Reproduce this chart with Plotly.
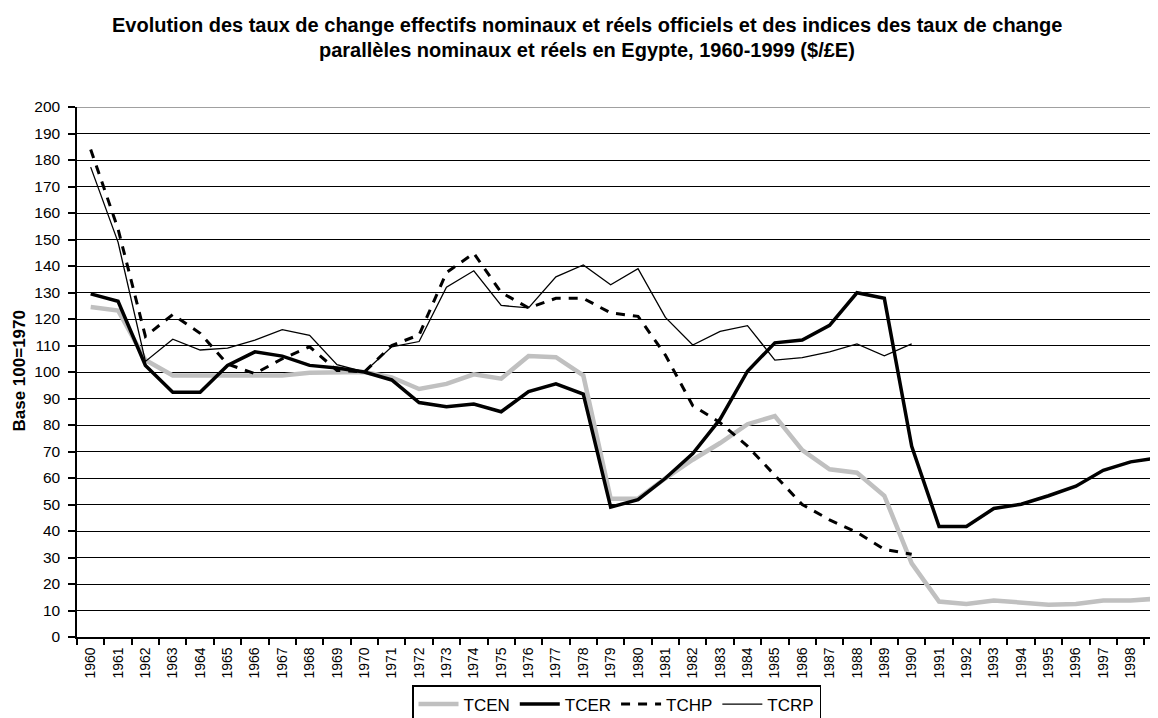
import plotly.graph_objects as go

years = [str(y) for y in range(1960, 2000)]

tcen = [124.5, 123.2, 104.5, 98.7, 98.7, 98.7, 98.7, 98.7, 99.7, 100.0,
        100.0, 98.0, 93.6, 95.5, 99.1, 97.5, 106.0, 105.6, 98.7, 52.2,
        52.2, 59.9, 66.9, 73.2, 80.3, 83.4, 70.5, 63.3, 62.0, 53.3,
        27.8, 13.4, 12.5, 13.8, 13.2, 12.2, 12.5, 13.8, 13.8, 14.5]

tcer = [129.5, 126.7, 102.5, 92.4, 92.4, 102.5, 107.6, 106.0, 102.5, 101.5,
        100.0, 97.0, 88.5, 86.9, 87.9, 85.0, 92.6, 95.5, 91.7, 49.0,
        51.8, 59.9, 69.2, 82.2, 100.3, 111.0, 112.1, 117.6, 129.9, 127.8,
        72.0, 41.7, 41.7, 48.5, 50.1, 53.3, 56.9, 62.9, 66.1, 67.6]

tchp = [184.0, 154.0, 113.4, 121.7, 114.6, 103.0, 99.4, 105.0, 109.5, 100.6,
        100.0, 110.0, 114.0, 137.5, 144.8, 130.0, 124.2, 127.8, 127.8, 122.3,
        121.0, 106.4, 87.3, 80.9, 72.0, 61.1, 50.0, 44.2, 39.5, 33.1,
        31.2, None, None, None, None, None, None, None, None, None]

tcrp = [177.3, 149.0, 104.0, 112.4, 108.3, 109.0, 112.0, 116.0, 113.8, 102.8,
        100.0, 109.5, 111.5, 132.0, 138.2, 125.1, 124.2, 135.9, 140.4, 132.9,
        139.0, 120.6, 110.2, 115.3, 117.5, 104.5, 105.4, 107.6, 110.6, 106.1,
        110.6, None, None, None, None, None, None, None, None, None]

yticks = list(range(0, 201, 10))

FONT = "Arial, Liberation Sans, sans-serif"
W, H = 1150, 710
ML, MT, MB = 69, 99, 81
PW = W - ML
PH = H - MT - MB


def px_x(x):
    return (x - ML) / PW


def px_y(y):
    return (H - MB - y) / PH


fig = go.Figure()
fig.add_trace(go.Scatter(x=years, y=tcen, name="TCEN", mode="lines",
                         line=dict(color="#C0C0C0", width=4.5)))
fig.add_trace(go.Scatter(x=years, y=tcer, name="TCER", mode="lines",
                         line=dict(color="#000000", width=3.5)))
fig.add_trace(go.Scatter(x=years, y=tchp, name="TCHP", mode="lines",
                         line=dict(color="#000000", width=3, dash="9px,8px")))
fig.add_trace(go.Scatter(x=years, y=tcrp, name="TCRP", mode="lines",
                         line=dict(color="#000000", width=1.3)))

fig.update_layout(
    width=W, height=H,
    margin=dict(l=ML, r=0, t=MT, b=MB, autoexpand=False),
    paper_bgcolor="white", plot_bgcolor="white",
    font=dict(family=FONT, size=14, color="black"),
    showlegend=True,
    legend=dict(
        orientation="h", x=404 / W, xanchor="left", xref="container",
        y=1 - 677 / H, yanchor="top", yref="container",
        bordercolor="black", borderwidth=1.5, bgcolor="white",
        font=dict(size=17, family=FONT),
        itemwidth=40, tracegroupgap=0,
    ),
    xaxis=dict(
        type="category", categoryorder="array", categoryarray=years,
        range=[-0.5, 39.0], automargin=False,
        tickangle=-90, tickson="boundaries", ticks="outside", ticklen=6,
        tickcolor="black", tickwidth=1.5, showline=True, linecolor="black", linewidth=1.5,
        showgrid=False, tickfont=dict(size=14), ticklabelstandoff=3,
    ),
    yaxis=dict(
        range=[0, 200], tickvals=yticks, ticks="outside", ticklen=7, automargin=False,
        tickcolor="black", tickwidth=1.5, showline=True, linecolor="black", linewidth=1.5,
        showgrid=True, gridcolor="black", gridwidth=1.2, zeroline=False,
        tickfont=dict(size=15.5), ticklabelstandoff=5,
    ),
    annotations=[
        dict(text="<b>Evolution des taux de change effectifs nominaux et réels officiels et des indices des taux de change</b>",
             xref="paper", yref="paper", x=px_x(579), y=px_y(17),
             xanchor="center", yanchor="middle", showarrow=False,
             font=dict(size=20, family=FONT)),
        dict(text="<b>parallèles nominaux et réels en Egypte, 1960-1999 ($/£E)</b>",
             xref="paper", yref="paper", x=px_x(579), y=px_y(42),
             xanchor="center", yanchor="middle", showarrow=False,
             font=dict(size=20, family=FONT)),
        dict(text="<b>Base 100=1970</b>", textangle=-90,
             xref="paper", yref="paper", x=px_x(10.5), y=px_y(363),
             xanchor="center", yanchor="middle", showarrow=False,
             font=dict(size=17, family=FONT)),
    ],
    shapes=[dict(type="line", xref="paper", yref="y", x0=0, x1=1, y0=200, y1=200,
                 line=dict(color="#808080", width=1.5), layer="above")],
)

fig.write_html("out.html")
